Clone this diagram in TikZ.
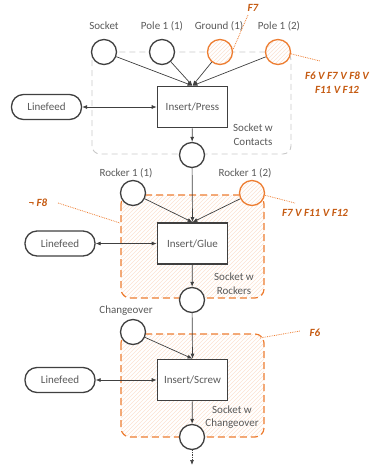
\documentclass[tikz,border=0pt]{standalone}
\usepackage{fontspec}
\setmainfont{Carlito}
\usetikzlibrary{patterns,arrows.meta}

\definecolor{dgray}{HTML}{404040}
\definecolor{tgray}{HTML}{595959}
\definecolor{rgray}{HTML}{C8C8C8}
\definecolor{orng}{HTML}{ED7D31}
\definecolor{fcol}{HTML}{C55A11}

% light rising diagonal hatching, fixed in page coordinates
\pgfdeclarepatternformonly{risinghatch}{\pgfqpoint{-1pt}{-1pt}}{\pgfqpoint{5pt}{5pt}}{\pgfqpoint{4pt}{4pt}}{
  \pgfsetlinewidth{0.45pt}
  \pgfpathmoveto{\pgfqpoint{0pt}{0pt}}
  \pgfpathlineto{\pgfqpoint{4.1pt}{4.1pt}}
  \pgfusepath{stroke}}

\tikzset{
  hatch/.style={pattern=risinghatch, pattern color=orng!22},
  place/.style={circle, draw=dgray, line width=1.3pt, minimum size=25pt, inner sep=0pt, fill=white},
  optplace/.style={circle, draw=orng, line width=1.3pt, minimum size=25pt, inner sep=0pt,
    preaction={fill=white}, hatch},
  trans/.style={rectangle, draw=dgray, line width=1.6pt, minimum width=70pt, minimum height=41pt,
    fill=white, text=tgray},
  feed/.style={rectangle, rounded corners=12pt, draw=dgray, line width=1.3pt, minimum width=70pt,
    minimum height=25pt, fill=white, text=tgray},
  lbl/.style={text=tgray, inner sep=0pt},
  flbl/.style={text=fcol, font=\fontsize{11}{14}\selectfont\bfseries\itshape, inner sep=0pt, align=center},
  ann/.style={draw=orng, densely dotted, line width=0.8pt},
  edge/.style={draw=dgray, line width=0.7pt, -{Latex[length=5pt,width=4pt]}},
  biedge/.style={draw=dgray, line width=0.7pt, {Latex[length=5pt,width=4pt]}-{Latex[length=5pt,width=4pt]}},
  optregion/.style={draw=orng, line width=1.2pt, dash pattern=on 7pt off 4pt, rounded corners=9pt, hatch},
  region/.style={draw=rgray, line width=0.9pt, dash pattern=on 6pt off 4pt, rounded corners=8pt}
}

\begin{document}
\begin{tikzpicture}[x=1pt, y=-1pt, font=\fontsize{11}{13.5}\selectfont]
\useasboundingbox (0,0) rectangle (372,467);

% sub-process regions
\draw[region] (92,52) rectangle (291,154);
\draw[optregion] (121,195) rectangle (264,298);
\draw[optregion] (121,334) rectangle (264,437);

% region captions
\node[lbl, align=center] (cap1) at (253,134.5) {Socket w\\Contacts};
\node[lbl, align=center] (cap2) at (234,283.5) {Socket w\\Rockers};
\node[lbl, align=center] (cap3) at (232,417) {Socket w\\Changeover};

% stage 1: insert and press
\node[place] (sock) at (104,52) {};
\node[place] (pa) at (162,52) {};
\node[optplace] (gnd) at (220,52) {};
\node[optplace] (pb) at (278,52) {};
\node[lbl] (lsock) at (104,26) {Socket};
\node[lbl] (lpa) at (162,26) {Pole 1 (1)};
\node[lbl] (lgnd) at (219,26) {Ground (1)};
\node[lbl] (lpb) at (279,26) {Pole 1 (2)};
\node[trans] (press) at (192.5,107) {Insert/Press};
\node[feed] (lf1) at (46.5,107) {Linefeed};
\node[place] (o1) at (192,155) {};

\draw[edge] (sock) -- (press.north);
\draw[edge] (pa) -- (press.north);
\draw[edge] (gnd) -- (press.north);
\draw[edge] (pb) -- (press.north);
\draw[biedge] (lf1) -- (press);
\draw[edge] (press) -- (o1);

% stage 2: insert and glue
\node[place] (ra) at (133,193) {};
\node[optplace] (rb) at (252,193) {};
\node[lbl] (lra) at (126,173) {Rocker 1 (1)};
\node[lbl] (lrb) at (245,173) {Rocker 1 (2)};
\node[trans] (glue) at (192.5,243.5) {Insert/Glue};
\node[feed] (lf2) at (60,243.5) {Linefeed};
\node[place] (o2) at (192,300) {};

\draw[edge] (o1) -- (glue.north);
\draw[edge] (ra) -- (glue.north);
\draw[edge] (rb) -- (glue.north);
\draw[biedge] (lf2) -- (glue);
\draw[edge] (glue) -- (o2);

% stage 3: insert and screw
\node[place] (chg) at (133,332) {};
\node[lbl] (lchg) at (126,311) {Changeover};
\node[trans] (screw) at (192.5,380) {Insert/Screw};
\node[feed] (lf3) at (60,380) {Linefeed};
\node[place] (o3) at (192,437) {};
\coordinate (cont) at (192,465);

\draw[edge] (o2) -- (screw.north);
\draw[edge] (chg) -- (screw.north);
\draw[biedge] (lf3) -- (screw);
\draw[edge] (screw) -- (o3);
\draw[edge, densely dotted] (o3) -- (cont);

% feature annotations
\node[flbl] (f7) at (253,8) {F7};
\draw[ann] (248,15) -- (gnd.10);
\node[flbl] (fpb) at (337,83) {F6 V F7 V F8 V\\F11 V F12};
\draw[ann] (pb.-8) -- (320,61);
\node[flbl] (frb) at (315,213) {F7 V F11 V F12};
\draw[ann] (rb.-10) -- (295,203);
\node[flbl] (nf8) at (38,203) {¬ F8};
\draw[ann] (58,203) -- (120,223);
\node[flbl] (f6) at (315,333) {F6};
\draw[ann] (260,338) -- (300,331);
\end{tikzpicture}
\end{document}
